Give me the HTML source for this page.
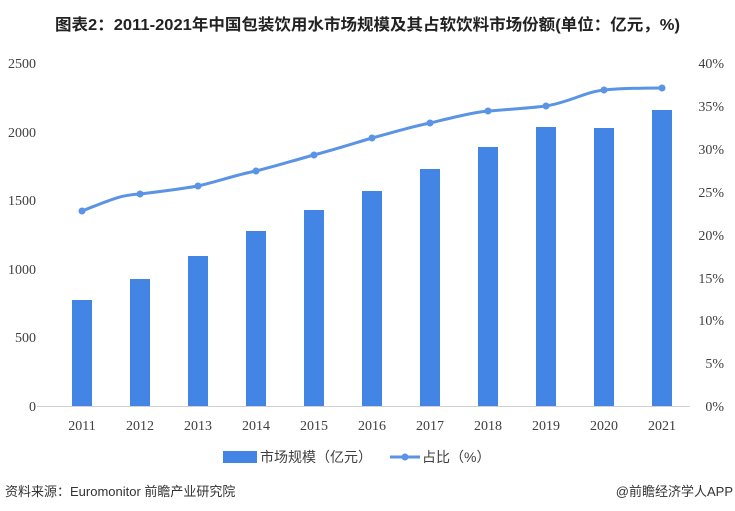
<!DOCTYPE html>
<html><head><meta charset="utf-8"><style>
body{margin:0;background:#fff;width:735px;height:511px;overflow:hidden}
svg{display:block}
.t{font-family:"Liberation Serif","Noto Serif CJK SC",serif;font-size:14px;fill:#404040}
.c{font-family:"Liberation Sans","Noto Sans CJK SC",sans-serif}
</style></head><body>
<svg width="735" height="511" viewBox="0 0 735 511">
<text x="55" y="30" textLength="625" lengthAdjust="spacingAndGlyphs" class="c" font-size="16" font-weight="bold" fill="#222">图表2：2011-2021年中国包装饮用水市场规模及其占软饮料市场份额(单位：亿元，%)</text>
<g class="t">
<text x="36" y="68" text-anchor="end" class="t">2500</text>
<text x="36" y="137" text-anchor="end" class="t">2000</text>
<text x="36" y="205" text-anchor="end" class="t">1500</text>
<text x="36" y="274" text-anchor="end" class="t">1000</text>
<text x="36" y="342" text-anchor="end" class="t">500</text>
<text x="36" y="411" text-anchor="end" class="t">0</text>
<text x="724" y="68" text-anchor="end" class="t">40%</text>
<text x="724" y="111" text-anchor="end" class="t">35%</text>
<text x="724" y="154" text-anchor="end" class="t">30%</text>
<text x="724" y="197" text-anchor="end" class="t">25%</text>
<text x="724" y="240" text-anchor="end" class="t">20%</text>
<text x="724" y="283" text-anchor="end" class="t">15%</text>
<text x="724" y="325" text-anchor="end" class="t">10%</text>
<text x="724" y="368" text-anchor="end" class="t">5%</text>
<text x="724" y="411" text-anchor="end" class="t">0%</text>
</g>
<line x1="37" y1="406.5" x2="690" y2="406.5" stroke="#d0d0d0"/>
<g fill="#4285e4">
<rect x="72" y="300" width="20" height="106"/>
<rect x="130" y="279" width="20" height="127"/>
<rect x="188" y="256" width="20" height="150"/>
<rect x="246" y="231" width="20" height="175"/>
<rect x="304" y="210" width="20" height="196"/>
<rect x="362" y="191" width="20" height="215"/>
<rect x="420" y="169" width="20" height="237"/>
<rect x="478" y="147" width="20" height="259"/>
<rect x="536" y="127" width="20" height="279"/>
<rect x="594" y="128" width="20" height="278"/>
<rect x="652" y="110" width="20" height="296"/>
</g>
<g class="t">
<text x="82" y="430" text-anchor="middle" class="t">2011</text>
<text x="140" y="430" text-anchor="middle" class="t">2012</text>
<text x="198" y="430" text-anchor="middle" class="t">2013</text>
<text x="256" y="430" text-anchor="middle" class="t">2014</text>
<text x="314" y="430" text-anchor="middle" class="t">2015</text>
<text x="372" y="430" text-anchor="middle" class="t">2016</text>
<text x="430" y="430" text-anchor="middle" class="t">2017</text>
<text x="488" y="430" text-anchor="middle" class="t">2018</text>
<text x="546" y="430" text-anchor="middle" class="t">2019</text>
<text x="604" y="430" text-anchor="middle" class="t">2020</text>
<text x="662" y="430" text-anchor="middle" class="t">2021</text>
</g>
<path d="M82,211 C110,200 120,195 140,194 C165,191 180,189 198,186 C220,181 235,175 256,171 C280,165 295,160 314,155 C340,148 355,143 372,138 C395,132 410,127 430,123 C455,117 470,113 488,111 C515,109 530,108 546,106 C570,102 585,92 604,90 C625,88 645,88 662,88" fill="none" stroke="#5b93e5" stroke-width="3"/>
<g fill="#5b93e5">
<circle cx="82" cy="211" r="3.5"/><circle cx="140" cy="194" r="3.5"/><circle cx="198" cy="186" r="3.5"/><circle cx="256" cy="171" r="3.5"/><circle cx="314" cy="155" r="3.5"/><circle cx="372" cy="138" r="3.5"/><circle cx="430" cy="123" r="3.5"/><circle cx="488" cy="111" r="3.5"/><circle cx="546" cy="106" r="3.5"/><circle cx="604" cy="90" r="3.5"/><circle cx="662" cy="88" r="3.5"/>
</g>
<rect x="223" y="451" width="34" height="12" fill="#4285e4"/>
<text x="260" y="462" class="c" font-size="14" fill="#404040">市场规模（亿元）</text>
<line x1="390" y1="457" x2="420" y2="457" stroke="#5b93e5" stroke-width="3"/>
<circle cx="405" cy="457" r="3.5" fill="#5b93e5"/>
<text x="422" y="462" class="c" font-size="14" fill="#404040">占比（%）</text>
<text x="5" y="496" class="c" font-size="13" fill="#333">资料来源：Euromonitor 前瞻产业研究院</text>
<text x="733" y="496" text-anchor="end" class="c" font-size="13" fill="#333">@前瞻经济学人APP</text>
</svg>
</body></html>
